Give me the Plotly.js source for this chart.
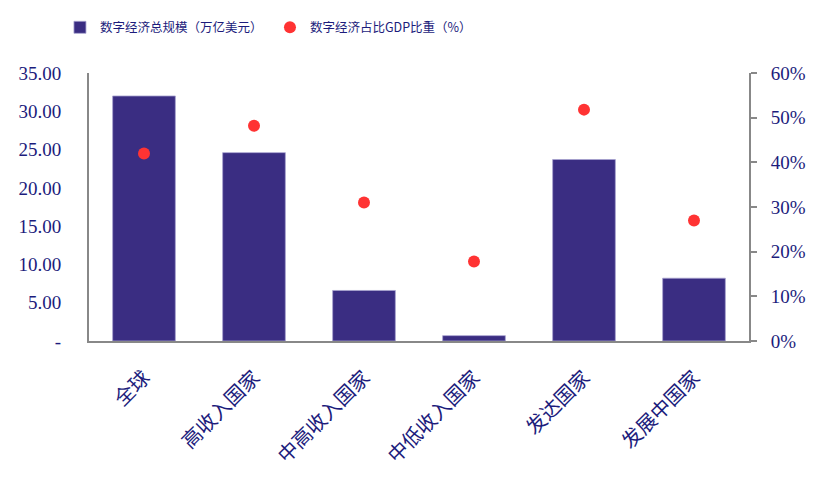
<!DOCTYPE html>
<html>
<head>
<meta charset="utf-8">
<script src="https://cdn.plot.ly/plotly-3.0.1.min.js"></script>
<style>html,body{margin:0;padding:0;background:#fff;}#chart{width:828px;height:488px;}</style>
</head>
<body>
<div id="chart"></div>
<script>
const categories = ['全球', '高收入国家', '中高收入国家', '中低收入国家', '发达国家', '发展中国家'];
const scaleValues = [32.0, 24.6, 6.6, 0.7, 23.7, 8.2];      // 万亿美元
const shareValues = [42.0, 48.2, 31.0, 17.8, 51.8, 27.0];   // %
const leftTickVals = [0, 5, 10, 15, 20, 25, 30, 35];
const leftTickLabels = ['-', '5.00', '10.00', '15.00', '20.00', '25.00', '30.00', '35.00'];
const rightTickVals = [0, 10, 20, 30, 40, 50, 60];
const rightTickLabels = ['0%', '10%', '20%', '30%', '40%', '50%', '60%'];
const seriesNames = ['数字经济总规模（万亿美元）', '数字经济占比GDP比重（%）'];

const navy = '#1c1c7c';
const numFont = 'Liberation Serif, Times New Roman, serif';
const cjkFont = 'Noto Sans CJK SC, sans-serif';

const traces = [
  {
    type: 'bar', name: seriesNames[0], x: categories, y: scaleValues,
    marker: {color: '#3a2d82', line: {color: '#a7a2cf', width: 0.8}},
    xaxis: 'x', yaxis: 'y'
  },
  {
    type: 'scatter', mode: 'markers', name: seriesNames[1], x: categories, y: shareValues,
    marker: {color: '#ff3333', size: 12},
    xaxis: 'x', yaxis: 'y2'
  }
];

const layout = {
  width: 828, height: 488,
  margin: {l: 89, r: 79, t: 73, b: 147},
  paper_bgcolor: '#fff', plot_bgcolor: '#fff',
  font: {family: numFont, color: navy},
  bargap: 0.43,
  showlegend: true,
  legend: {
    orientation: 'h', x: -0.044, xanchor: 'left', y: 1.225, yanchor: 'top',
    font: {family: cjkFont, size: 12.5, color: navy},
    entrywidth: 165, entrywidthmode: 'pixels',
    bgcolor: 'rgba(0,0,0,0)'
  },
  xaxis: {
    type: 'category', showline: true, linecolor: '#888', linewidth: 2,
    ticks: '', showgrid: false, zeroline: false,
    tickangle: -45,
    tickfont: {family: cjkFont, size: 20, color: navy},
    ticklabelstandoff: 15
  },
  yaxis: {
    range: [0, 35], showline: true, linecolor: '#888', linewidth: 2,
    ticks: '', showgrid: false, zeroline: false,
    tickmode: 'array', tickvals: leftTickVals, ticktext: leftTickLabels,
    tickfont: {family: numFont, size: 19, color: navy},
    ticklabelstandoff: 22
  },
  yaxis2: {
    range: [0, 60], overlaying: 'y', side: 'right', anchor: 'x',
    showline: true, linecolor: '#888', linewidth: 2,
    ticks: 'outside', ticklen: 6, tickwidth: 2, tickcolor: '#888',
    showgrid: false, zeroline: false,
    tickmode: 'array', tickvals: rightTickVals, ticktext: rightTickLabels,
    tickfont: {family: numFont, size: 19, color: navy},
    ticklabelstandoff: 10
  }
};

Plotly.newPlot('chart', traces, layout, {staticPlot: true, displayModeBar: false});
</script>
</body>
</html>
